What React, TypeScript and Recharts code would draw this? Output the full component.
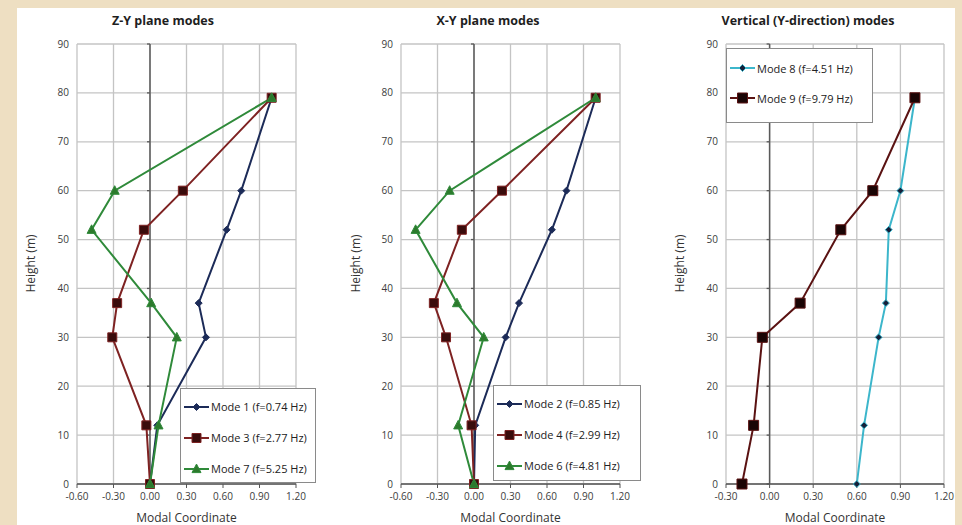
import React from "react";
import {
    CartesianGrid,
    Legend,
    Line,
    LineChart,
    ReferenceLine,
    XAxis,
    YAxis,
} from "recharts";

// Heights of the measured points (m)
const heights = [0, 12, 30, 37, 52, 60, 79];

// Z-Y plane mode shapes
const mode1 = [0, 0.06, 0.46, 0.4, 0.63, 0.75, 1.0];
const mode3 = [0, -0.03, -0.31, -0.27, -0.05, 0.27, 1.0];
const mode7 = [0, 0.07, 0.22, 0.01, -0.48, -0.29, 1.0];

// X-Y plane mode shapes
const mode2 = [0, 0.01, 0.26, 0.37, 0.64, 0.76, 1.0];
const mode4 = [0, -0.02, -0.23, -0.33, -0.1, 0.23, 1.0];
const mode6 = [0, -0.13, 0.08, -0.14, -0.48, -0.2, 1.0];

// Vertical mode shapes
const mode8 = [0.6, 0.65, 0.75, 0.8, 0.82, 0.9, 1.0];
const mode9 = [-0.19, -0.11, -0.05, 0.21, 0.49, 0.71, 1.0];

const heightTicks = [0, 10, 20, 30, 40, 50, 60, 70, 80, 90];
const wideTicks = [-0.6, -0.3, 0, 0.3, 0.6, 0.9, 1.2];
const narrowTicks = [-0.3, 0, 0.3, 0.6, 0.9, 1.2];

type Shape = "diamond" | "square" | "triangle";

interface Series {
    name: string;
    values: number[];
    line: string;
    marker: string;
    shape: Shape;
    size: number;
}

interface Box {
    left: number;
    top: number;
    width: number;
    height: number;
}

const NAVY = "#1c2b58";
const RED = "#7e2222";
const GREEN = "#2f8a3a";

const markerPath = (shape: Shape, cx: number, cy: number, s: number) => {
    if (shape === "diamond")
        return `M${cx},${cy - s}L${cx + s},${cy}L${cx},${cy + s}L${cx - s},${cy}Z`;
    if (shape === "square")
        return `M${cx - s},${cy - s}h${2 * s}v${2 * s}h${-2 * s}Z`;
    return `M${cx},${cy - s * 1.1}L${cx + s},${cy + s * 0.8}L${cx - s},${cy + s * 0.8}Z`;
};

const toPoints = (xs: number[]) => heights.map((h, i) => ({ x: xs[i], y: h }));

const tickFont = {
    fontSize: 10,
    fill: "#3c3c3c",
    fontFamily: "'Liberation Sans Narrow', 'Open Sans', sans-serif",
};

// zero line with small tick marks at every height tick, like Excel's crossing axis
const ZeroAxis = (props: any) => {
    const { x1, y1, y2 } = props;
    const top = Math.min(y1, y2);
    const bottom = Math.max(y1, y2);
    const maxH = heightTicks[heightTicks.length - 1];
    return (
        <g>
            <line x1={x1} y1={top} x2={x1} y2={bottom} stroke="#5a5a5a" strokeWidth={1.5} />
            {heightTicks.map((t) => {
                const y = bottom - ((bottom - top) * t) / maxH;
                return <line key={t} x1={x1 - 3} y1={y} x2={x1} y2={y} stroke="#5a5a5a" strokeWidth={1.3} />;
            })}
        </g>
    );
};

const LegendBox = ({ items, rowHeight, padTop }: { items: Series[]; rowHeight: number; padTop: number }) => (
    <div
        style={{
            width: "100%",
            height: "100%",
            boxSizing: "border-box",
            background: "#fff",
            border: "1px solid #8a8a8a",
            paddingTop: padTop,
            paddingLeft: 2,
        }}
    >
        {items.map((s) => (
            <div
                key={s.name}
                style={{ display: "flex", alignItems: "center", height: rowHeight }}
            >
                <svg width={27} height={12} style={{ marginRight: 1 }}>
                    <line x1={1} y1={6} x2={26} y2={6} stroke={s.line} strokeWidth={2} />
                    <path
                        d={markerPath(s.shape, 13.5, 6, s.size)}
                        fill={s.marker}
                        stroke={s.line}
                        strokeWidth={1}
                    />
                </svg>
                <span style={{ fontSize: 11, color: "#222", fontFamily: "'Open Sans', sans-serif" }}>
                    {s.name}
                </span>
            </div>
        ))}
    </div>
);

interface PanelProps {
    title: string;
    left: number;
    width: number;
    rightMargin: number;
    xDomain: [number, number];
    xTicks: number[];
    series: Series[];
    legend: Box;
    rowHeight: number;
    padTop: number;
    titleX: number;
    yLabelX: number;
}

const Panel: React.FC<PanelProps> = ({
    title,
    left,
    width,
    rightMargin,
    xDomain,
    xTicks,
    series,
    legend,
    rowHeight,
    padTop,
    titleX,
    yLabelX,
}) => (
    <div style={{ position: "absolute", left, top: 0, width, height: 525 }}>
        <div
            style={{
                position: "absolute",
                left: titleX - 120,
                width: 240,
                top: 12,
                textAlign: "center",
                fontFamily: "'Open Sans', sans-serif",
                fontWeight: 700,
                fontSize: 12.5,
                color: "#1e1e1e",
            }}
        >
            {title}
        </div>
        <div
            style={{
                position: "absolute",
                left: yLabelX - 50,
                top: 255,
                width: 100,
                textAlign: "center",
                transform: "rotate(-90deg)",
                fontFamily: "'Open Sans', sans-serif",
                fontSize: 12,
                color: "#333",
            }}
        >
            Height (m)
        </div>
        <LineChart
            width={width}
            height={525}
            margin={{ top: 44, right: rightMargin, bottom: 0, left: 0 }}
            style={{ overflow: "visible" }}
        >
            <CartesianGrid stroke="#c4c4c4" strokeWidth={1.3} />
            <XAxis
                type="number"
                dataKey="x"
                domain={xDomain}
                ticks={xTicks}
                interval={0}
                allowDataOverflow
                height={41}
                tickFormatter={(v: number) => v.toFixed(2)}
                tick={tickFont}
                tickSize={4}
                tickMargin={5}
                stroke="#555"
                axisLine={{ stroke: "#555", strokeWidth: 1.5 }}
                label={{
                    value: "Modal Coordinate",
                    position: "insideBottom",
                    offset: 3,
                    style: { fontSize: 12, fill: "#333", fontFamily: "'Open Sans', sans-serif" },
                }}
            />
            <YAxis
                type="number"
                dataKey="y"
                domain={[0, 90]}
                ticks={heightTicks}
                interval={0}
                width={60}
                tick={tickFont}
                tickLine={false}
                axisLine={false}
            />
            <ReferenceLine x={0} shape={ZeroAxis} />
            {series.map((s) => (
                <Line
                    key={s.name}
                    data={toPoints(s.values)}
                    dataKey="y"
                    name={s.name}
                    stroke={s.line}
                    strokeWidth={2}
                    isAnimationActive={false}
                    dot={(p: any) => (
                        <path
                            key={`${s.name}-${p.index}`}
                            d={markerPath(s.shape, p.cx, p.cy, s.size)}
                            fill={s.marker}
                            stroke={s.line}
                            strokeWidth={1}
                        />
                    )}
                    activeDot={false}
                />
            ))}
            <Legend
                layout="horizontal"
                verticalAlign="middle"
                align="center"
                wrapperStyle={{ ...legend, position: "absolute" }}
                content={() => <LegendBox items={series} rowHeight={rowHeight} padTop={padTop} />}
            />
        </LineChart>
    </div>
);

const zySeries: Series[] = [
    { name: "Mode 1 (f=0.74 Hz)", values: mode1, line: NAVY, marker: NAVY, shape: "diamond", size: 3.5 },
    { name: "Mode 3 (f=2.77 Hz)", values: mode3, line: RED, marker: "#3a0c0c", shape: "square", size: 4.5 },
    { name: "Mode 7 (f=5.25 Hz)", values: mode7, line: GREEN, marker: "#2c7a2c", shape: "triangle", size: 4.5 },
];

const xySeries: Series[] = [
    { name: "Mode 2 (f=0.85 Hz)", values: mode2, line: NAVY, marker: NAVY, shape: "diamond", size: 3.5 },
    { name: "Mode 4 (f=2.99 Hz)", values: mode4, line: RED, marker: "#3a0c0c", shape: "square", size: 4.5 },
    { name: "Mode 6 (f=4.81 Hz)", values: mode6, line: GREEN, marker: "#2c7a2c", shape: "triangle", size: 4.5 },
];

const vSeries: Series[] = [
    { name: "Mode 8 (f=4.51 Hz)", values: mode8, line: "#3cb6cb", marker: "#15203a", shape: "diamond", size: 3.5 },
    { name: "Mode 9 (f=9.79 Hz)", values: mode9, line: "#5a1212", marker: "#1a0505", shape: "square", size: 5 },
];

export default function App() {
    return (
        <div
            style={{
                position: "absolute",
                left: 0,
                top: 0,
                width: 962,
                height: 525,
                background: "#eedfc2",
                overflow: "hidden",
            }}
        >
            <div
                style={{
                    position: "absolute",
                    left: 17,
                    top: 8,
                    width: 938,
                    height: 517,
                    background: "#fff",
                }}
            />
            <Panel
                title="Z-Y plane modes"
                left={17}
                width={303}
                rightMargin={24}
                xDomain={[-0.6, 1.2]}
                xTicks={wideTicks}
                series={zySeries}
                legend={{ left: 163, top: 388, width: 136, height: 95 }}
                rowHeight={31}
                padTop={2}
                titleX={146}
                yLabelX={13}
            />
            <Panel
                title="X-Y plane modes"
                left={341}
                width={303}
                rightMargin={24}
                xDomain={[-0.6, 1.2]}
                xTicks={wideTicks}
                series={xySeries}
                legend={{ left: 152, top: 385, width: 148, height: 96 }}
                rowHeight={31}
                padTop={2}
                titleX={147}
                yLabelX={14}
            />
            <Panel
                title="Vertical (Y-direction) modes"
                left={666}
                width={296}
                rightMargin={18}
                xDomain={[-0.3, 1.2]}
                xTicks={narrowTicks}
                series={vSeries}
                legend={{ left: 60, top: 48, width: 147, height: 75 }}
                rowHeight={30}
                padTop={4}
                titleX={142}
                yLabelX={13}
            />
        </div>
    );
}
